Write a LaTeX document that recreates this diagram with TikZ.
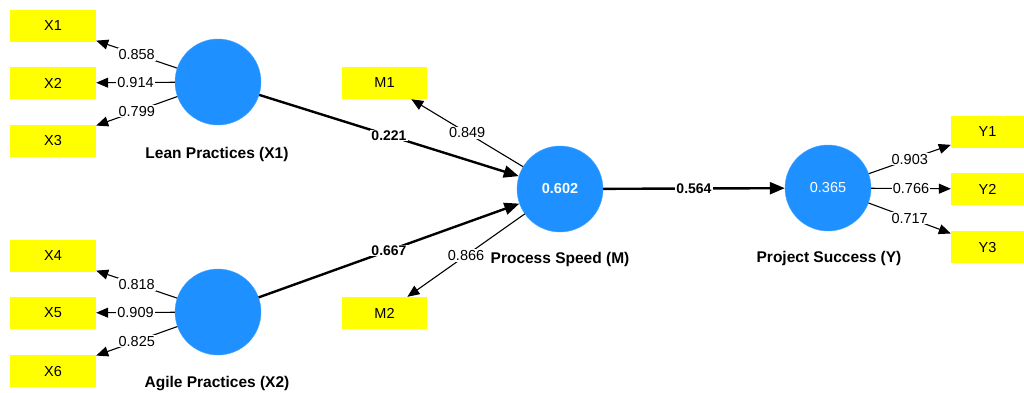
\documentclass[tikz,border=0pt]{standalone}
\usepackage{fontspec}
\setmainfont{Liberation Sans}
\usetikzlibrary{arrows.meta}
\definecolor{lvblue}{HTML}{1E90FF}
\definecolor{indyellow}{HTML}{FFFF00}
\tikzset{
  latent/.style={circle, fill=lvblue, draw=lvblue!80!white, line width=0.4pt, minimum size=86pt, inner sep=0pt,
    text=white, font=\fontsize{14.5}{16}\selectfont},
  indicator/.style={rectangle, fill=indyellow, minimum width=86pt, minimum height=32pt, inner sep=0pt,
    font=\fontsize{14.5}{16}\selectfont},
  lvname/.style={font=\bfseries\fontsize{15.5}{18}\selectfont},
  loading/.style={-{Triangle[length=12pt,width=10pt]}, line width=1.1pt},
  pathcoef/.style={-{Triangle[length=15pt,width=12pt]}, line width=2.4pt},
  lval/.style={fill=white, inner sep=1pt, font=\fontsize{14.5}{16}\selectfont},
  pval/.style={fill=white, inner sep=1pt, font=\bfseries\fontsize{14}{16}\selectfont},
}
\begin{document}
\begin{tikzpicture}[x=1pt, y=-1pt]
\useasboundingbox (0,0) rectangle (1024,392);

% latent variables
\node[latent] (lean) at (218,82) {};
\node[latent] (agile) at (218,312) {};
\node[latent] (speed) at (560,189) {\bfseries 0.602};
\node[latent] (succ) at (828,188) {0.365};

\node[lvname] (leanlbl) at (217,154) {Lean Practices (X1)};
\node[lvname] (agilelbl) at (217,384) {Agile Practices (X2)};
\node[lvname] (speedlbl) at (560,259) {Process Speed (M)};
\node[lvname] (succlbl) at (829,258) {Project Success (Y)};

% indicators
\node[indicator] (X1) at (53,26) {X1};
\node[indicator] (X2) at (53,83) {X2};
\node[indicator] (X3) at (53,141) {X3};
\node[indicator] (X4) at (53,256) {X4};
\node[indicator] (X5) at (53,313) {X5};
\node[indicator] (X6) at (53,371) {X6};
\node[indicator, minimum width=85pt] (M1) at (384.5,83) {M1};
\node[indicator, minimum width=85pt] (M2) at (384.5,313) {M2};
\node[indicator, minimum width=73pt] (Y1) at (987.5,132) {Y1};
\node[indicator, minimum width=73pt] (Y2) at (987.5,189) {Y2};
\node[indicator, minimum width=73pt] (Y3) at (987.5,247) {Y3};

% outer loadings
\draw[loading] (lean) -- node[lval] {0.858} (X1);
\draw[loading] (lean) -- node[lval] {0.914} (X2);
\draw[loading] (lean) -- node[lval] {0.799} (X3);
\draw[loading] (agile) -- node[lval] {0.818} (X4);
\draw[loading] (agile) -- node[lval] {0.909} (X5);
\draw[loading] (agile) -- node[lval] {0.825} (X6);
\draw[loading] (speed) -- node[lval] {0.849} (M1);
\draw[loading] (speed) -- node[lval] {0.866} (M2);
\draw[loading] (succ) -- node[lval] {0.903} (Y1);
\draw[loading] (succ) -- node[lval] {0.766} (Y2);
\draw[loading] (succ) -- node[lval] {0.717} (Y3);

% structural paths
\draw[pathcoef] (lean) -- node[pval] {0.221} (speed);
\draw[pathcoef] (agile) -- node[pval] {0.667} (speed);
\draw[pathcoef] (speed) -- node[pval] {0.564} (succ);
\end{tikzpicture}
\end{document}
